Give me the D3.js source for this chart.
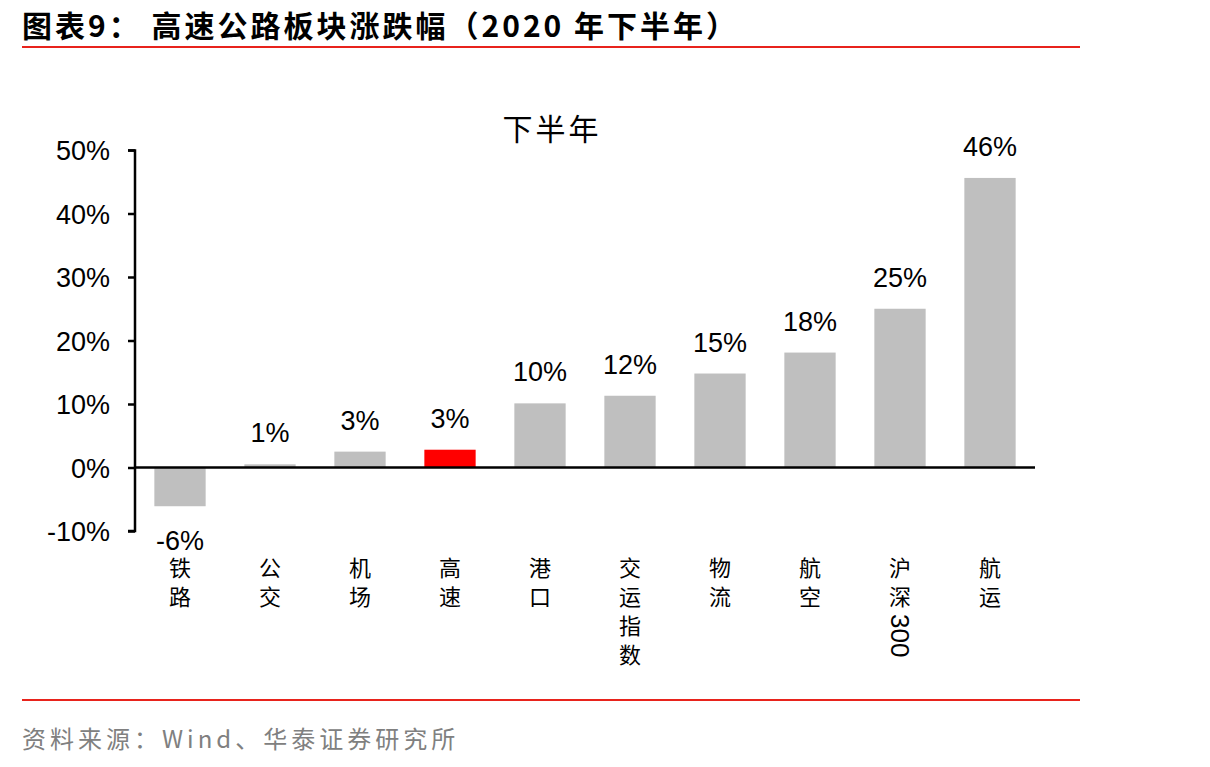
<!DOCTYPE html>
<html>
<head>
<meta charset="utf-8">
<script src="https://cdn.jsdelivr.net/npm/d3@7"></script>
<style>
  body { margin: 0; background: #fff; }
  svg { display: block; }
</style>
</head>
<body>
<svg id="chart" width="1210" height="767"></svg>
<script>
var categories = ["铁路", "公交", "机场", "高速", "港口", "交运指数", "物流", "航空", "沪深300", "航运"];
var values = [-0.061, 0.005, 0.025, 0.028, 0.101, 0.113, 0.148, 0.181, 0.25, 0.456];
var valueLabels = ["-6%", "1%", "3%", "3%", "10%", "12%", "15%", "18%", "25%", "46%"];
var highlight = "高速";
var yTicks = [-0.1, 0, 0.1, 0.2, 0.3, 0.4, 0.5];

var svg = d3.select("#chart");
var cjk = "'Noto Sans CJK SC', sans-serif";
var latin = "'Liberation Sans', Arial, sans-serif";

// header
svg.append("text").attr("x", 22).attr("y", 37)
  .style("font-family", cjk).style("font-weight", "bold").style("font-size", "30px")
  .style("letter-spacing", "3px")
  .text("图表9：  高速公路板块涨跌幅（2020 年下半年）");
svg.append("line").attr("x1", 22).attr("x2", 1080).attr("y1", 47).attr("y2", 47)
  .attr("stroke", "#e8231c").attr("stroke-width", 2);

// footer
svg.append("line").attr("x1", 22).attr("x2", 1080).attr("y1", 700).attr("y2", 700)
  .attr("stroke", "#e8231c").attr("stroke-width", 2);
svg.append("text").attr("x", 22).attr("y", 748)
  .style("font-family", cjk).style("font-size", "24px").style("letter-spacing", "4px")
  .attr("fill", "#808080")
  .text("资料来源：Wind、华泰证券研究所");

var x = d3.scaleBand().domain(categories).range([135, 1035]).paddingInner(0.43).paddingOuter(0.215);
var y = d3.scaleLinear().domain([-0.1, 0.5]).range([531, 150]);

// chart title
svg.append("text").attr("x", 552).attr("y", 140).attr("text-anchor", "middle")
  .style("font-family", cjk).style("font-size", "30px").style("letter-spacing", "3px")
  .text("下半年");

// bars
svg.selectAll("rect.bar").data(categories).enter().append("rect")
  .attr("class", "bar")
  .attr("x", function(d) { return x(d); })
  .attr("width", x.bandwidth())
  .attr("y", function(d, i) { return y(Math.max(0, values[i])); })
  .attr("height", function(d, i) { return Math.abs(y(values[i]) - y(0)); })
  .attr("fill", function(d) { return d == highlight ? "#ff0000" : "#bfbfbf"; });

// value labels
svg.selectAll("text.val").data(categories).enter().append("text")
  .attr("class", "val")
  .attr("x", function(d) { return x(d) + x.bandwidth() / 2; })
  .attr("y", function(d, i) { return values[i] >= 0 ? y(values[i]) - 22 : y(values[i]) + 44; })
  .attr("text-anchor", "middle")
  .style("font-family", latin).style("font-size", "27px")
  .text(function(d, i) { return valueLabels[i]; });

// y axis
var pct = d3.format(".0%");
var yAxis = d3.axisLeft(y).tickValues(yTicks).tickSize(7)
  .tickFormat(function(d) { return pct(d).replace("−", "-"); });
var ya = svg.append("g").attr("transform", "translate(135,0)").call(yAxis);
ya.select(".domain").attr("stroke", "#000").attr("stroke-width", 2.5).attr("d", "M-7,150.5H0V531H-7");
ya.selectAll(".tick line").attr("stroke", "#000").attr("stroke-width", 2.5);
ya.selectAll(".tick text").attr("x", -25).attr("dy", "0.36em")
  .style("font-family", latin).style("font-size", "27px").attr("fill", "#000");

// zero line
svg.append("line").attr("x1", 134).attr("x2", 1035).attr("y1", y(0)).attr("y2", y(0))
  .attr("stroke", "#000").attr("stroke-width", 2.5);

// category labels, vertical
categories.forEach(function(c) {
  var cx = x(c) + x.bandwidth() / 2;
  var g = svg.append("g");
  var m = c.match(/^([^0-9]*)([0-9]*)$/);
  var chars = m[1].split("");
  chars.forEach(function(ch, j) {
    g.append("text").attr("x", cx).attr("y", 576 + j * 29).attr("text-anchor", "middle")
      .style("font-family", cjk).style("font-size", "22px").text(ch);
  });
  if (m[2]) {
    var top = 576 + chars.length * 29 - 20;
    g.append("text")
      .attr("transform", "translate(" + (cx - 9) + "," + top + ") rotate(90)")
      .style("font-family", latin).style("font-size", "26px").text(m[2]);
  }
});
</script>
</body>
</html>
